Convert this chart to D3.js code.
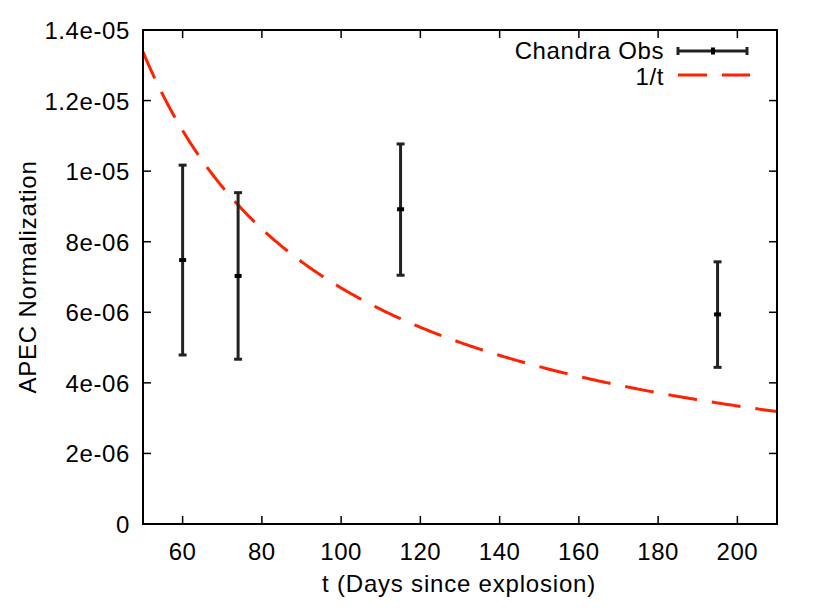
<!DOCTYPE html>
<html><head><meta charset="utf-8">
<script src="https://cdn.jsdelivr.net/npm/d3@7"></script>
<style>body{margin:0;background:#fff}svg{display:block}text{font-family:"Liberation Sans",Arial,Helvetica,sans-serif;fill:#000;font-size:24px;letter-spacing:0.6px}</style>
</head><body>
<svg id="c" width="831" height="615"></svg>
<script>
// data
const obsT = [60, 74, 115, 195];
const obsY = [7.48e-6, 7.03e-6, 8.92e-6, 5.94e-6];
const obsLo = [4.79e-6, 4.67e-6, 7.05e-6, 4.44e-6];
const obsHi = [1.017e-5, 9.39e-6, 1.077e-5, 7.43e-6];
const fitCoef = 6.69e-4; // model: fitCoef / t
const xTicks = [60, 80, 100, 120, 140, 160, 180, 200];
const yTicks = [0, 2e-6, 4e-6, 6e-6, 8e-6, 1e-5, 1.2e-5, 1.4e-5];
const yTickLabels = ["0", "2e-06", "4e-06", "6e-06", "8e-06", "1e-05", "1.2e-05", "1.4e-05"];
const legendLabels = ["Chandra Obs", "1/t"];

const svg = d3.select("#c");
const L = 143, R = 777, T = 30, B = 524;
const x = d3.scaleLinear().domain([50, 210]).range([L, R]);
const y = d3.scaleLinear().domain([0, 1.4e-5]).range([B, T]);
const tk = 8;

// ticks
const g = svg.append("g").attr("stroke", "#000").attr("stroke-width", 1.5);
xTicks.forEach(v => {
  g.append("line").attr("x1", x(v)).attr("x2", x(v)).attr("y1", B).attr("y2", B - tk);
  g.append("line").attr("x1", x(v)).attr("x2", x(v)).attr("y1", T).attr("y2", T + tk);
});
yTicks.forEach(v => {
  g.append("line").attr("x1", L).attr("x2", L + tk).attr("y1", y(v)).attr("y2", y(v));
  g.append("line").attr("x1", R).attr("x2", R - tk).attr("y1", y(v)).attr("y2", y(v));
});
xTicks.forEach(v => {
  svg.append("text").attr("x", x(v)).attr("y", 560).attr("text-anchor", "middle").text(v);
});
yTicks.forEach((v, i) => {
  svg.append("text").attr("x", 130).attr("y", y(v) + 9).attr("text-anchor", "end").text(yTickLabels[i]);
});

// axis labels
svg.append("text").attr("x", 459).attr("y", 592).attr("text-anchor", "middle")
  .style("letter-spacing", "0.8px").text("t (Days since explosion)");
svg.append("text").attr("transform", `translate(36,277) rotate(-90)`)
  .attr("text-anchor", "middle").style("letter-spacing", "0.8px").text("APEC Normalization");

// clip
svg.append("clipPath").attr("id", "clip").append("rect")
  .attr("x", L).attr("y", T).attr("width", R - L).attr("height", B - T);

// fit curve
const ts = d3.range(50, 210.01, 0.5);
svg.append("path").attr("clip-path", "url(#clip)")
  .attr("d", d3.line().x(t => x(t)).y(t => y(fitCoef / t))(ts))
  .attr("fill", "none").attr("stroke", "#ff2200").attr("stroke-width", 3)
  .attr("stroke-dasharray", "29,15");

// error bars
const eb = svg.append("g").attr("stroke", "#222").attr("stroke-width", 3);
obsT.forEach((t, i) => {
  const cx = x(t);
  eb.append("line").attr("x1", cx).attr("x2", cx).attr("y1", y(obsLo[i])).attr("y2", y(obsHi[i]));
  eb.append("line").attr("x1", cx - 4).attr("x2", cx + 4).attr("y1", y(obsLo[i])).attr("y2", y(obsLo[i]));
  eb.append("line").attr("x1", cx - 4).attr("x2", cx + 4).attr("y1", y(obsHi[i])).attr("y2", y(obsHi[i]));
  eb.append("rect").attr("x", cx - 3.5).attr("y", y(obsY[i]) - 2).attr("width", 7).attr("height", 4)
    .attr("fill", "#000").attr("stroke", "none");
});

// frame
svg.append("rect").attr("x", L).attr("y", T).attr("width", R - L).attr("height", B - T)
  .attr("fill", "none").attr("stroke", "#000").attr("stroke-width", 2);

// legend
svg.append("text").attr("x", 664).attr("y", 59).attr("text-anchor", "end").text(legendLabels[0]);
svg.append("text").attr("x", 664).attr("y", 85).attr("text-anchor", "end").text(legendLabels[1]);
const lg = svg.append("g").attr("stroke", "#222").attr("stroke-width", 3);
lg.append("line").attr("x1", 678).attr("x2", 747).attr("y1", 51).attr("y2", 51);
lg.append("line").attr("x1", 678).attr("x2", 678).attr("y1", 47).attr("y2", 55);
lg.append("line").attr("x1", 747).attr("x2", 747).attr("y1", 47).attr("y2", 55);
lg.append("rect").attr("x", 711).attr("y", 47.5).attr("width", 4).attr("height", 7).attr("fill", "#000").attr("stroke", "none");
svg.append("line").attr("x1", 678).attr("x2", 750).attr("y1", 75).attr("y2", 75)
  .attr("stroke", "#ff2200").attr("stroke-width", 3).attr("stroke-dasharray", "29,15");
</script>
</body></html>
